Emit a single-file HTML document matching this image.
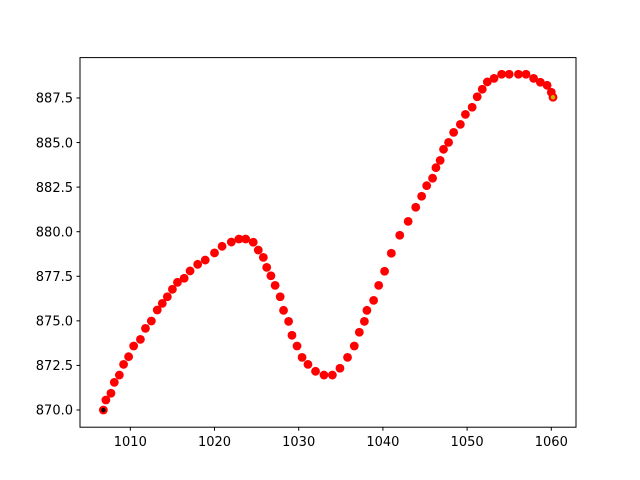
<!DOCTYPE html>
<html><head><meta charset="utf-8"><style>body{margin:0;background:#fff}svg{display:block}text{font-family:"DejaVu Sans","Liberation Sans",sans-serif;font-size:13px;fill:#000}</style></head>
<body>
<svg id="chart" width="640" height="480" xmlns="http://www.w3.org/2000/svg">
<rect width="640" height="480" fill="#fff"/>
<g id="marks"></g>
<rect x="80" y="57.6" width="496" height="369.6" fill="none" stroke="#000" stroke-width="1"/>
<g id="xaxis"></g>
<g id="yaxis"></g>
</svg>
<script>
const xs=[1006.8,1007.1,1007.7,1008.1,1008.7,1009.2,1009.8,1010.4,1011.2,1011.8,1012.5,1013.2,1013.8,1014.4,1015.0,1015.6,1016.4,1017.1,1018.0,1018.9,1020.0,1020.9,1022.0,1022.9,1023.7,1024.6,1025.2,1025.8,1026.2,1026.7,1027.2,1027.8,1028.2,1028.8,1029.2,1029.8,1030.4,1031.1,1032.0,1033.0,1034.0,1034.9,1035.8,1036.6,1037.2,1037.8,1038.1,1038.9,1039.5,1040.2,1041.0,1042.0,1043.0,1043.9,1044.6,1045.2,1045.9,1046.3,1046.8,1047.2,1047.8,1048.4,1049.2,1049.8,1050.6,1051.2,1051.8,1052.4,1053.2,1054.1,1055.0,1056.1,1057.0,1057.9,1058.7,1059.5,1060.0,1060.2];
const ys=[870.0,870.56,870.94,871.55,871.96,872.56,872.99,873.59,873.96,874.58,874.99,875.61,875.98,876.35,876.77,877.16,877.39,877.80,878.17,878.41,878.81,879.18,879.42,879.59,879.59,879.41,878.97,878.56,878.0,877.53,876.99,876.35,875.59,874.97,874.19,873.59,872.95,872.56,872.17,871.96,871.96,872.34,872.95,873.59,874.36,874.97,875.59,876.15,876.99,877.78,878.79,879.80,880.58,881.37,881.99,882.58,883.0,883.59,884.0,884.62,885.01,885.57,886.02,886.58,886.98,887.57,887.99,888.40,888.60,888.83,888.83,888.83,888.83,888.60,888.38,888.21,887.82,887.54];
const xTicks=[1010,1020,1030,1040,1050,1060];
const yTicks=[870.0,872.5,875.0,877.5,880.0,882.5,885.0,887.5];
const NS="http://www.w3.org/2000/svg";
function X(v){return 130.3+(v-1010)*8.42;}
function Y(v){return 410-(v-870)*17.83;}
function mk(t,a,p){const e=document.createElementNS(NS,t);for(const k in a)e.setAttribute(k,a[k]);p.appendChild(e);return e;}
const marks=document.getElementById('marks');
xs.forEach((x,i)=>{const c=mk('circle',{cx:X(x),cy:Y(ys[i]),r:4.4,fill:'#ff0000'},marks);

});
const s=mk('circle',{cx:X(xs[0]),cy:Y(ys[0]),r:2.2,fill:'#000'},marks);


const n=xs.length-1;
const e=mk('circle',{cx:X(xs[n]),cy:Y(ys[n]),r:2.2,fill:'#c8b400'},marks);


const xa=document.getElementById('xaxis');
xTicks.forEach(t=>{const px=X(t);mk('line',{x1:px,x2:px,y1:427.2,y2:430.7,stroke:'#000'},xa);
const tx=mk('text',{x:px,y:446,'text-anchor':'middle'},xa);tx.textContent=t;

});
const ya=document.getElementById('yaxis');
yTicks.forEach(t=>{const py=Y(t);mk('line',{x1:76.5,x2:80,y1:py,y2:py,stroke:'#000'},ya);
const tx=mk('text',{x:73,y:py+4.7,'text-anchor':'end'},ya);tx.textContent=t.toFixed(1);

});
</script>
</body></html>
